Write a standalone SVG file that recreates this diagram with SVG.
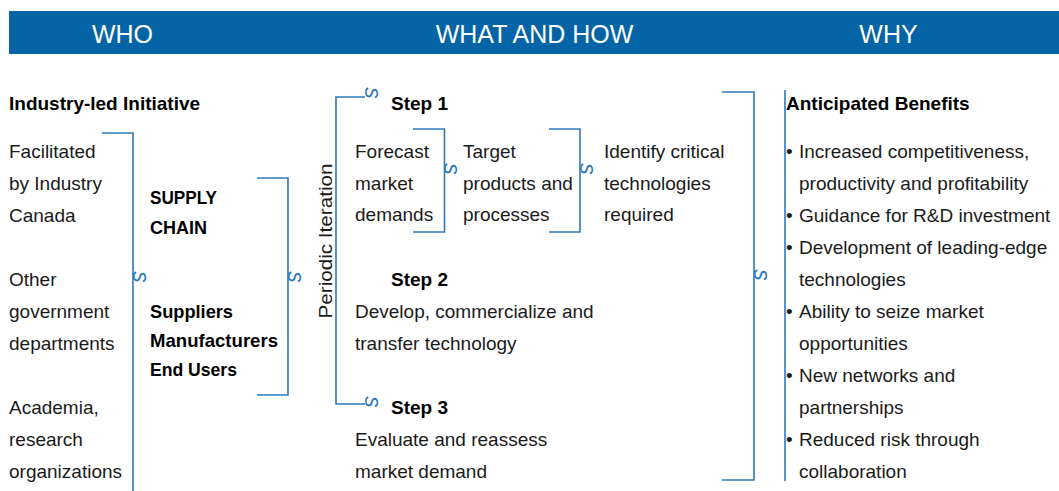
<svg xmlns="http://www.w3.org/2000/svg" width="1059" height="491" viewBox="0 0 1059 491">
  <style>
    text { font-family: "Liberation Sans", Arial, sans-serif; fill: #1a1a1a; }
    .hd { font-size: 25px; fill: #ffffff; text-anchor: middle; }
    .t { font-size: 19px; }
    .b { font-size: 19px; font-weight: bold; fill: #000000; }
    .ln { fill: none; stroke: #2e78b8; stroke-width: 1.6; }
    .ar { font-size: 23px; font-style: italic; fill: #2e78b8; text-anchor: middle; }
  </style>

  <!-- column header band -->
  <g id="header">
    <rect x="9" y="11" width="1050" height="43" fill="#0564a5"/>
    <text class="hd" x="122.5" y="43">WHO</text>
    <text class="hd" x="534.5" y="43">WHAT AND HOW</text>
    <text class="hd" x="888.5" y="43">WHY</text>
  </g>

  <!-- WHO column -->
  <g id="initiative">
    <text class="b" x="9" y="110">Industry-led Initiative</text>
  </g>
  <g id="industry-canada">
    <text class="t" x="9" y="158">Facilitated</text>
    <text class="t" x="9" y="190">by Industry</text>
    <text class="t" x="9" y="222">Canada</text>
  </g>
  <g id="government">
    <text class="t" x="9" y="286">Other</text>
    <text class="t" x="9" y="318">government</text>
    <text class="t" x="9" y="350">departments</text>
  </g>
  <g id="academia">
    <text class="t" x="9" y="414">Academia,</text>
    <text class="t" x="9" y="446">research</text>
    <text class="t" x="9" y="478">organizations</text>
  </g>
  <g id="supply-chain">
    <text class="b" x="150" y="204" textLength="67" lengthAdjust="spacingAndGlyphs">SUPPLY</text>
    <text class="b" x="150" y="234" textLength="57" lengthAdjust="spacingAndGlyphs">CHAIN</text>
    <text class="b" x="150" y="318" textLength="83" lengthAdjust="spacingAndGlyphs">Suppliers</text>
    <text class="b" x="150" y="347" textLength="128" lengthAdjust="spacingAndGlyphs">Manufacturers</text>
    <text class="b" x="150" y="376" textLength="87" lengthAdjust="spacingAndGlyphs">End Users</text>
  </g>

  <!-- WHAT AND HOW column -->
  <g id="periodic-iteration">
    <text class="t" transform="translate(332,241) rotate(-90)" text-anchor="middle" textLength="155" lengthAdjust="spacingAndGlyphs">Periodic Iteration</text>
  </g>
  <g id="step1">
    <text class="b" x="391" y="110">Step 1</text>
  </g>
  <g id="forecast">
    <text class="t" x="355" y="158">Forecast</text>
    <text class="t" x="355" y="190">market</text>
    <text class="t" x="355" y="221">demands</text>
  </g>
  <g id="target">
    <text class="t" x="463" y="158">Target</text>
    <text class="t" x="463" y="190">products and</text>
    <text class="t" x="463" y="221">processes</text>
  </g>
  <g id="identify">
    <text class="t" x="604" y="158">Identify critical</text>
    <text class="t" x="604" y="190">technologies</text>
    <text class="t" x="604" y="221">required</text>
  </g>
  <g id="step2">
    <text class="b" x="391" y="286">Step 2</text>
    <text class="t" x="355" y="318">Develop, commercialize and</text>
    <text class="t" x="355" y="350">transfer technology</text>
  </g>
  <g id="step3">
    <text class="b" x="391" y="414">Step 3</text>
    <text class="t" x="355" y="446">Evaluate and reassess</text>
    <text class="t" x="355" y="478">market demand</text>
  </g>

  <!-- WHY column -->
  <g id="benefits">
    <text class="b" x="786" y="110">Anticipated Benefits</text>
    <text class="t" x="786" y="158">•</text>
    <text class="t" x="799" y="158">Increased competitiveness,</text>
    <text class="t" x="799" y="190">productivity and profitability</text>
    <text class="t" x="786" y="222">•</text>
    <text class="t" x="799" y="222">Guidance for R&amp;D investment</text>
    <text class="t" x="786" y="254">•</text>
    <text class="t" x="799" y="254">Development of leading-edge</text>
    <text class="t" x="799" y="286">technologies</text>
    <text class="t" x="786" y="318">•</text>
    <text class="t" x="799" y="318">Ability to seize market</text>
    <text class="t" x="799" y="350">opportunities</text>
    <text class="t" x="786" y="382">•</text>
    <text class="t" x="799" y="382">New networks and</text>
    <text class="t" x="799" y="414">partnerships</text>
    <text class="t" x="786" y="446">•</text>
    <text class="t" x="799" y="446">Reduced risk through</text>
    <text class="t" x="799" y="478">collaboration</text>
  </g>

  <!-- brackets and flow marks -->
  <g id="connectors">
    <path class="ln" d="M102,133 H133 V491"/>
    <path class="ln" d="M257,178 H288 V395 H257"/>
    <path class="ln" d="M365,97 H336 V404 H365"/>
    <path class="ln" d="M413,129 H444.5 V232 H413"/>
    <path class="ln" d="M549,129 H580 V232 H549"/>
    <path class="ln" d="M722,92 H754 V480 H722"/>
    <path class="ln" d="M785,90 V481"/>

    <text class="ar" transform="translate(139,277) rotate(90)" dy="0.27em">s</text>
    <text class="ar" transform="translate(294,277) rotate(90)" dy="0.27em">s</text>
    <text class="ar" transform="translate(371,93) rotate(90)" dy="0.27em">s</text>
    <text class="ar" transform="translate(371,402) rotate(90)" dy="0.27em">s</text>
    <text class="ar" transform="translate(450,169) rotate(90)" dy="0.27em">s</text>
    <text class="ar" transform="translate(586,169) rotate(90)" dy="0.27em">s</text>
    <text class="ar" transform="translate(760,275) rotate(90)" dy="0.27em">s</text>
  </g>
</svg>
